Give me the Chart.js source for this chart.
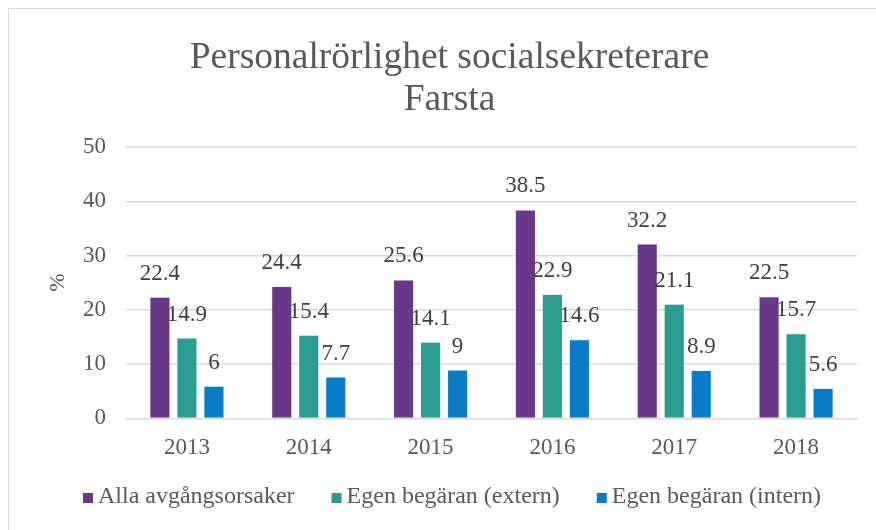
<!DOCTYPE html>
<html>
<head>
<meta charset="utf-8">
<script src="https://cdn.jsdelivr.net/npm/chart.js@4"></script>
<style>
  body { margin: 0; width: 876px; height: 530px; overflow: hidden; background: #fff; }
  #frame { position: absolute; left: 8px; top: 8px; width: 900px; height: 560px; border: 1px solid #d9d9d9; }
  #wrap { position: absolute; left: 0; top: 0; width: 876px; height: 530px; }
</style>
</head>
<body>
<div id="frame"></div>
<div id="wrap"><canvas id="chart" width="876" height="530"></canvas></div>
<script>
// data
const years = ["2013", "2014", "2015", "2016", "2017", "2018"];
const allaAvgang = [22.4, 24.4, 25.6, 38.5, 32.2, 22.5];
const egenExtern = [14.9, 15.4, 14.1, 22.9, 21.1, 15.7];
const egenIntern = [6, 7.7, 9, 14.6, 8.9, 5.6];
const seriesNames = ["Alla avgångsorsaker", "Egen begäran (extern)", "Egen begäran (intern)"];
const yTicks = [0, 10, 20, 30, 40, 50];

const serif = "'Liberation Serif', 'Times New Roman', serif";
const grey = "#595959";

Chart.defaults.font.family = serif;
Chart.defaults.color = grey;

// draws the value above every bar
const valueLabels = {
  id: "valueLabels",
  afterDatasetsDraw(chart) {
    const ctx = chart.ctx;
    ctx.save();
    ctx.font = "23px " + serif;
    ctx.fillStyle = "#404040";
    ctx.textAlign = "center";
    ctx.textBaseline = "alphabetic";
    chart.data.datasets.forEach((ds, i) => {
      chart.getDatasetMeta(i).data.forEach((bar, j) => {
        ctx.fillText(String(ds.data[j]), bar.x, bar.y - 17);
      });
    });
    ctx.restore();
  }
};

// legend drawn by hand, office style: small square close to its text
const bottomLegend = {
  id: "bottomLegend",
  afterDraw(chart) {
    const ctx = chart.ctx;
    ctx.save();
    ctx.font = "24px " + serif;
    ctx.textBaseline = "middle";
    const box = 10, gap = 5, spacing = 37;
    const items = chart.data.datasets.map(ds => ({
      text: ds.label,
      color: ds.backgroundColor,
      w: box + gap + ctx.measureText(ds.label).width
    }));
    const total = items.reduce((s, it) => s + it.w, 0) + spacing * (items.length - 1);
    let x = 452 - total / 2;
    const y = 497;
    items.forEach(it => {
      ctx.fillStyle = it.color;
      ctx.fillRect(x, y - 4, box, box);
      ctx.fillStyle = grey;
      ctx.fillText(it.text, x + box + gap, y);
      x += it.w + spacing;
    });
    ctx.restore();
  }
};

new Chart(document.getElementById("chart"), {
  type: "bar",
  data: {
    labels: years,
    datasets: [
      { label: seriesNames[0], data: allaAvgang, backgroundColor: "#6a3889" },
      { label: seriesNames[1], data: egenExtern, backgroundColor: "#2a9d90" },
      { label: seriesNames[2], data: egenIntern, backgroundColor: "#0a7bc6" }
    ].map(d => Object.assign(d, {
      borderColor: "rgba(235,240,250,0.9)",
      borderWidth: 1,
      categoryPercentage: 0.665,
      barPercentage: 0.78
    }))
  },
  options: {
    responsive: false,
    animation: false,
    layout: { padding: { left: 42, right: 19, top: 0, bottom: 52 } },
    plugins: {
      title: {
        display: true,
        text: ["Personalrörlighet socialsekreterare", "Farsta"],
        color: grey,
        font: { family: serif, size: 37.5, weight: "normal", lineHeight: 1.12 },
        padding: { top: 37, bottom: 26 }
      },
      legend: { display: false },
      tooltip: { enabled: false }
    },
    scales: {
      x: {
        grid: { display: false, drawTicks: false },
        border: { color: "#d9d9d9" },
        ticks: { color: grey, font: { family: serif, size: 23 }, padding: 16 }
      },
      y: {
        min: 0,
        max: 50,
        afterBuildTicks(axis) { axis.ticks = yTicks.map(v => ({ value: v })); },
        afterFit(axis) { axis.width = 84; },
        grid: { color: "#d9d9d9", lineWidth: 1.5, drawTicks: false },
        border: { display: false },
        ticks: { color: grey, font: { family: serif, size: 23 }, padding: 20 },
        title: {
          display: true,
          text: "%",
          color: grey,
          font: { family: serif, size: 22 },
          padding: { top: 3, bottom: 0 }
        }
      }
    }
  },
  plugins: [valueLabels, bottomLegend]
});
</script>
</body>
</html>
